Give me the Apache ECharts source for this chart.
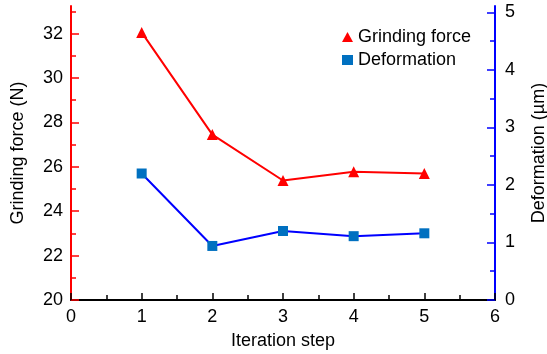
<!DOCTYPE html>
<html>
<head>
<meta charset="utf-8">
<script src="https://cdn.jsdelivr.net/npm/echarts@6/dist/echarts.min.js"></script>
<style>
  html, body { margin: 0; padding: 0; background: #fff; }
  #chart { width: 547px; height: 354px; }
</style>
</head>
<body>
<div id="chart"></div>
<script>
// Iteration steps on the x axis
const steps = [1, 2, 3, 4, 5];
// Grinding force (N), left axis
const grindingForce = [32.05, 27.45, 25.38, 25.78, 25.7];
// Deformation (µm), right axis
const deformation = [2.2, 0.94, 1.2, 1.11, 1.16];
// Tick values of the force axis (labelled / minor)
const forceTicks = [20, 22, 24, 26, 28, 30, 32];
const forceMinorTicks = [21, 23, 25, 27, 29, 31, 33];
// Tick values of the deformation axis (labelled / minor)
const deformTicks = [0, 1, 2, 3, 4, 5];
const deformMinorTicks = [0.5, 1.5, 2.5, 3.5, 4.5];

const FONT = 'Liberation Sans, Arial, sans-serif';
const RED = '#ff0000';
const BLUE = '#0000ff';
const SQUARE = '#0070c0';

// axis ends run a little past the last tick
const FORCE_MIN = 20, FORCE_MAX = 33.24;
const DEFORM_MIN = 0, DEFORM_MAX = 5.113;

const chart = echarts.init(document.getElementById('chart'), null, { renderer: 'canvas' });

const labelStyle = { color: '#000', fontSize: 18, fontFamily: FONT };

chart.setOption({
  animation: false,
  backgroundColor: '#fff',
  grid: { left: 71, right: 52, top: 6, bottom: 54, containLabel: false, outerBoundsMode: 'none' },
  legend: {
    orient: 'vertical',
    left: 337,
    top: 23,
    itemWidth: 11,
    itemHeight: 10,
    itemGap: 5,
    textStyle: { color: '#000', fontSize: 18, fontFamily: FONT },
    data: [
      { name: 'Grinding force', icon: 'triangle' },
      { name: 'Deformation', icon: 'rect' }
    ]
  },
  xAxis: {
    type: 'value',
    min: 0,
    max: 6,
    interval: 1,
    name: 'Iteration step',
    nameLocation: 'middle',
    nameGap: 32,
    nameTextStyle: labelStyle,
    axisLine: { show: true, onZero: false, lineStyle: { color: '#000', width: 2 } },
    axisTick: { show: true, inside: true, length: 7, lineStyle: { color: '#000', width: 1.5 } },
    minorTick: { show: true, splitNumber: 2, length: 5, lineStyle: { color: '#000', width: 1.5 } },
    axisLabel: Object.assign({ margin: 8 }, labelStyle),
    splitLine: { show: false }
  },
  yAxis: [
    {
      type: 'value',
      position: 'left',
      min: FORCE_MIN,
      max: FORCE_MAX,
      name: 'Grinding force (N)',
      nameLocation: 'middle',
      nameRotate: 90,
      nameGap: 44,
      nameTextStyle: labelStyle,
      axisLine: { show: true, onZero: false, lineStyle: { color: RED, width: 2 } },
      axisTick: { show: true, inside: true, length: 8, customValues: forceTicks, lineStyle: { color: RED, width: 1.5 } },
      axisLabel: Object.assign({ margin: 8, customValues: forceTicks }, labelStyle),
      splitLine: { show: false }
    },
    {
      // minor ticks of the force axis
      type: 'value',
      position: 'left',
      offset: 0,
      min: FORCE_MIN,
      max: FORCE_MAX,
      axisLine: { show: false },
      axisTick: { show: true, inside: true, length: 5, customValues: forceMinorTicks, lineStyle: { color: RED, width: 1.5 } },
      axisLabel: { show: false },
      splitLine: { show: false }
    },
    {
      type: 'value',
      position: 'right',
      min: DEFORM_MIN,
      max: DEFORM_MAX,
      name: 'Deformation (µm)',
      nameLocation: 'middle',
      nameRotate: 90,
      nameGap: 35,
      nameTextStyle: labelStyle,
      axisLine: { show: true, onZero: false, lineStyle: { color: BLUE, width: 2 } },
      axisTick: { show: true, inside: true, length: 8, customValues: deformTicks, lineStyle: { color: BLUE, width: 1.5 } },
      axisLabel: Object.assign({ margin: 10, customValues: deformTicks }, labelStyle),
      splitLine: { show: false }
    },
    {
      // minor ticks of the deformation axis
      type: 'value',
      position: 'right',
      offset: 0,
      min: DEFORM_MIN,
      max: DEFORM_MAX,
      axisLine: { show: false },
      axisTick: { show: true, inside: true, length: 5, customValues: deformMinorTicks, lineStyle: { color: BLUE, width: 1.5 } },
      axisLabel: { show: false },
      splitLine: { show: false }
    }
  ],
  series: [
    {
      name: 'Grinding force',
      type: 'line',
      yAxisIndex: 0,
      data: steps.map((s, i) => [s, grindingForce[i]]),
      symbol: 'triangle',
      symbolSize: 11,
      lineStyle: { color: RED, width: 2 },
      itemStyle: { color: RED }
    },
    {
      name: 'Deformation',
      type: 'line',
      yAxisIndex: 2,
      data: steps.map((s, i) => [s, deformation[i]]),
      symbol: 'rect',
      symbolSize: 10,
      lineStyle: { color: BLUE, width: 2 },
      itemStyle: { color: SQUARE }
    }
  ]
});
</script>
</body>
</html>
